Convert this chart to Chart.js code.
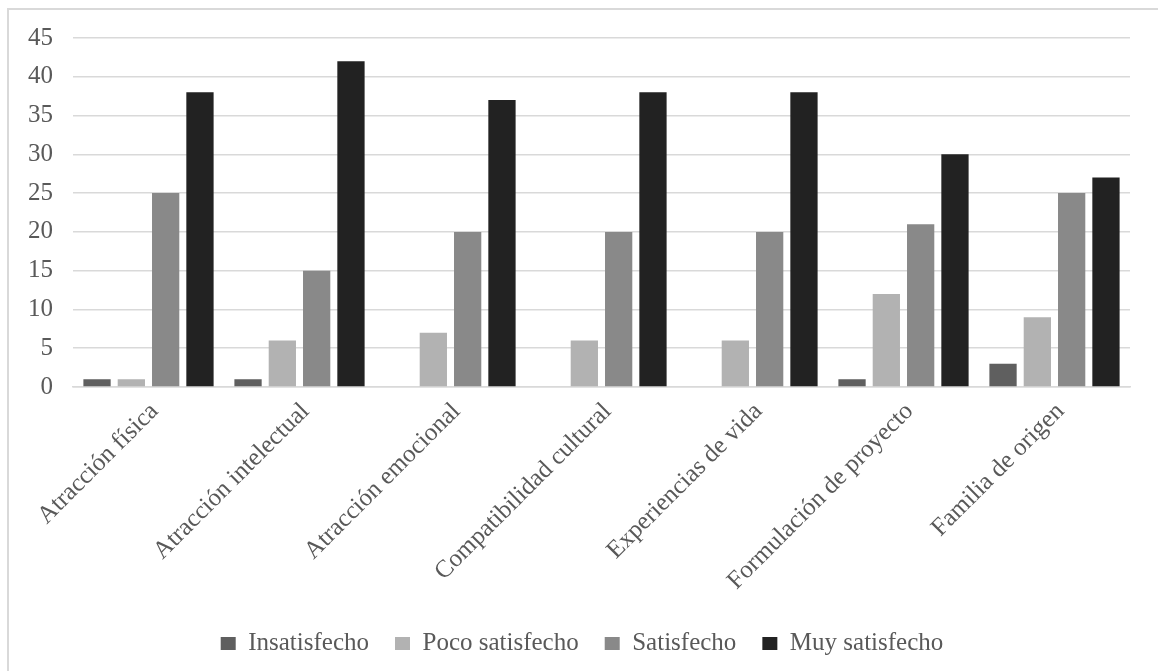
<!DOCTYPE html>
<html>
<head>
<meta charset="utf-8">
<script src="https://cdn.jsdelivr.net/npm/chart.js@4"></script>
<style>
  body { margin: 0; background: #fff; }
  #frame { position: absolute; left: 7px; top: 8px; width: 1160px; height: 680px;
           border-top: 2px solid #d9d9d9; border-left: 2px solid #d9d9d9; }
  #grafico { position: absolute; left: 0; top: 0; }
</style>
</head>
<body>
<div id="frame"></div>
<canvas id="grafico" width="1158" height="671"></canvas>
<script>
// categorias y series
var categorias = ['Atracción física', 'Atracción intelectual', 'Atracción emocional',
  'Compatibilidad cultural', 'Experiencias de vida', 'Formulación de proyecto', 'Familia de origen'];
var insatisfecho = [1, 1, 0, 0, 0, 1, 3];
var pocoSatisfecho = [1, 6, 7, 6, 6, 12, 9];
var satisfecho = [25, 15, 20, 20, 20, 21, 25];
var muySatisfecho = [38, 42, 37, 38, 38, 30, 27];

var fuente = 'Liberation Serif';
var gris = '#595959';

function serie(label, data, color) {
  return {
    label: label,
    data: data,
    backgroundColor: color,
    borderWidth: 0,
    categoryPercentage: 0.909,
    barPercentage: 0.795
  };
}

// la leyenda del original esta un poco corrida a la derecha
var moverLeyenda = {
  id: 'moverLeyenda',
  afterLayout: function(chart) {
    chart.legend.left += 17;
    chart.legend.right += 17;
  }
};

new Chart(document.getElementById('grafico'), {
  type: 'bar',
  data: {
    labels: categorias,
    datasets: [
      serie('Insatisfecho', insatisfecho, '#5f5f5f'),
      serie('Poco satisfecho', pocoSatisfecho, '#b2b2b2'),
      serie('Satisfecho', satisfecho, '#898989'),
      serie('Muy satisfecho', muySatisfecho, '#222222')
    ]
  },
  plugins: [moverLeyenda],
  options: {
    responsive: false,
    animation: false,
    layout: { padding: { left: 0, right: 28, top: 38, bottom: 5 } },
    plugins: {
      tooltip: { enabled: false },
      legend: {
        position: 'bottom',
        labels: {
          color: gris,
          font: { family: fuente, size: 25 },
          boxWidth: 15,
          boxHeight: 13,
          padding: 26
        }
      }
    },
    scales: {
      x: {
        grid: { display: false },
        border: { display: true, color: '#d9d9d9', width: 1.5 },
        ticks: {
          color: gris,
          font: { family: fuente, size: 25 },
          minRotation: 45,
          maxRotation: 45,
          padding: 2,
          labelOffset: 6
        },
        afterFit: function(scale) { scale.height = 218; }
      },
      y: {
        min: 0,
        max: 45,
        ticks: {
          stepSize: 5,
          color: gris,
          font: { family: fuente, size: 25 },
          padding: 20
        },
        grid: { color: '#d9d9d9', lineWidth: 1.5, drawTicks: false },
        border: { display: false },
        afterFit: function(scale) { scale.width = 73; }
      }
    }
  }
});
</script>
</body>
</html>
